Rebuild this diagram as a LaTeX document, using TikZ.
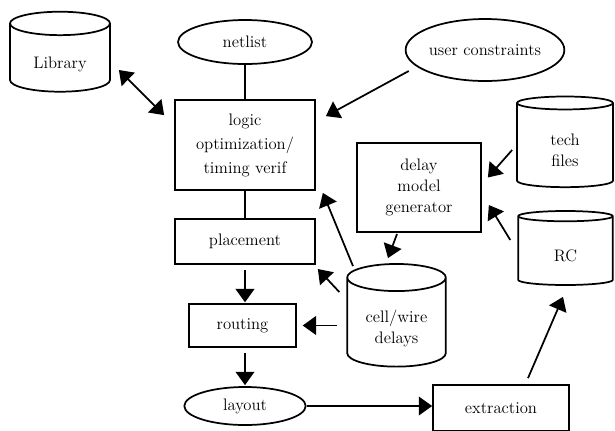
\documentclass[tikz,border=0pt]{standalone}
\usepackage{tikz}
\usetikzlibrary{shapes.geometric,arrows.meta,calc}
\tikzset{box/.style={draw,rectangle,inner sep=0pt,align=center}}
\tikzset{oval/.style={draw,ellipse,inner sep=0pt}}
\tikzset{db/.style={draw,cylinder,shape border rotate=90,shape aspect=0.44,inner sep=0pt}}
% text of a cylinder sits a bit below its middle
\newcommand{\dblabel}[1]{\raisebox{-4.5pt}[\height][\depth]{\begin{tabular}{@{}c@{}}#1\end{tabular}}}

\begin{document}
\begin{tikzpicture}[x=0.75pt,y=-0.75pt,line width=1.3pt,>={Triangle[length=10pt,width=14pt]},
    font=\fontsize{12.5}{16}\selectfont]
  \useasboundingbox (0,0) rectangle (615,430);
  % inputs and stores
  \node[db,minimum width=75pt,minimum height=60pt] (lib) at (60,58) {\dblabel{Library}};
  \node[oval,minimum width=100.5pt,minimum height=33pt] (netlist) at (245,42) {netlist};
  \node[oval,minimum width=116pt,minimum height=46.5pt] (user) at (485,50) {user constraints};
  \node[db,minimum width=72pt,minimum height=68pt] (tech) at (565,145.5) {\dblabel{tech\\files}};
  \node[db,minimum width=71pt,minimum height=55.5pt] (rc) at (565.5,251) {\dblabel{RC}};
  \node[db,minimum width=74pt,minimum height=77pt] (cell) at (396.5,322.5) {\dblabel{cell/wire\\delays}};
  % flow steps
  \node[box,minimum width=105pt,minimum height=67.5pt,font=\fontsize{12.5}{18}\selectfont]
    (logic) at (245,145) {logic\\optimization/\\timing verif};
  \node[box,minimum width=93pt,minimum height=67pt] (gen) at (419,187.5) {delay\\model\\generator};
  \node[box,minimum width=105pt,minimum height=34pt] (place) at (245,241.5) {placement};
  \node[box,minimum width=80pt,minimum height=32pt] (route) at (242.5,325.5) {routing};
  \node[oval,minimum width=91pt,minimum height=28.5pt] (layout) at (245,406) {layout};
  \node[box,minimum width=102pt,minimum height=34.5pt] (extract) at (501,408) {extraction};
  % connectors
  \draw[<->] ($(lib.east)+(8,12)$) -- ($(logic.north west)+(-10,16)$);
  \draw (netlist.south) -- (logic.north);
  \draw[->] ($(user.west)+(4,21)$) -- ($(logic.north east)+(10,17)$);
  \draw[->] ($(tech.west)+(-4,4.5)$) -- ($(gen.east)+(6,-10)$);
  \draw[->] ($(rc.west)+(-7,-11)$) -- ($(gen.east)+(7,17.5)$);
  \draw[->] ($(gen.south)+(-22,1)$) -- ($(cell.north)+(-8.5,-5)$);
  \draw[->] ($(cell.north)+(-43.5,3)$) -- ($(logic.south east)+(7,2)$);
  \draw[->] ($(cell.west)+(-7,-30.5)$) -- ($(place.south east)+(2,4)$);
  \draw[->] ($(cell.west |- route.east)+(-9,0)$) -- ($(route.east)+(6,0)$);
  \draw (logic.south) -- (place.north);
  \draw[->] ($(place.south)+(0,5)$) -- ($(place.south |- route.north)+(0,-1)$);
  \draw[->] ($(route.south)+(2.5,5)$) -- ($(layout.north)+(0,-1)$);
  \draw[->] (layout.east) -- (layout.east -| extract.west);
  \draw[->] ($(extract.north)+(27,-6)$) -- ($(rc.south)+(-2.5,11)$);
\end{tikzpicture}
\end{document}
